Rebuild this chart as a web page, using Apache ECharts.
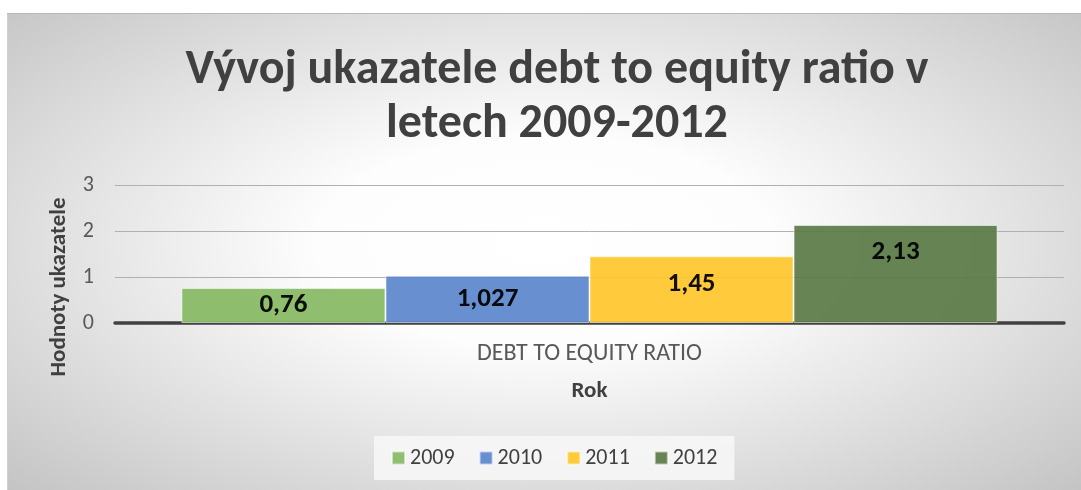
<!DOCTYPE html>
<html>
<head>
<meta charset="utf-8">
<script src="https://cdn.jsdelivr.net/npm/echarts@6/dist/echarts.min.js"></script>
<style>
  html, body { margin: 0; padding: 0; background: #fff; }
  #chart {
    position: absolute;
    left: 7px;
    top: 13px;
    width: 1074px;
    height: 477px;
    background: radial-gradient(ellipse at 50% 48%, #ffffff 0%, #fdfdfd 30%, #c4c4c4 100%);
    border-top: 1px solid #b8b8b8;
    border-left: 1px solid #d0d0d0;
    box-sizing: border-box;
  }
</style>
</head>
<body>
<div id="chart"></div>
<script>
const categories = ["DEBT TO EQUITY RATIO"];
const years = ["2009", "2010", "2011", "2012"];
const values = [0.76, 1.027, 1.45, 2.13];
const colors = ["#84b962", "#5b86cb", "#ffc62b", "#5a7b45"];
const yTicks = [0, 1, 2, 3];

const FONT = "Carlito, Lato, 'Noto Sans', sans-serif";

const chart = echarts.init(document.getElementById("chart"));

// short bars get a centred label, tall ones sit near the top
const labelPos = ["inside", "inside", "insideTop", "insideTop"];

chart.setOption({
  textStyle: { fontFamily: FONT },
  title: {
    text: "Vývoj ukazatele debt to equity ratio v\nletech 2009-2012",
    left: 544,
    textAlign: "center",
    top: 25,
    textStyle: {
      fontFamily: FONT,
      fontSize: 48,
      fontWeight: "bold",
      color: "#404040",
      lineHeight: 54,
    },
  },
  legend: {
    data: years,
    left: 366,
    bottom: 10,
    itemWidth: 13,
    itemHeight: 13,
    itemGap: 24,
    padding: [11, 17],
    backgroundColor: "rgba(246,246,246,0.9)",
    icon: "rect",
    textStyle: { fontFamily: FONT, fontSize: 22, color: "#404040" },
  },
  grid: { left: 107, right: 17, top: 171, bottom: 167 },
  xAxis: {
    type: "category",
    data: categories,
    name: "Rok",
    nameLocation: "middle",
    nameGap: 57,
    nameTextStyle: { fontFamily: FONT, fontSize: 23, fontWeight: "bold", color: "#404040" },
    axisLine: { lineStyle: { color: "#404040", width: 3.5 } },
    axisTick: { show: false },
    axisLabel: { margin: 19, fontSize: 24, color: "#595959", fontFamily: FONT },
  },
  yAxis: {
    type: "value",
    min: yTicks[0],
    max: yTicks[yTicks.length - 1],
    interval: 1,
    axisLine: { show: false },
    axisTick: { show: false },
    axisLabel: { margin: 21, fontSize: 22, color: "#595959", fontFamily: FONT },
    splitLine: { lineStyle: { color: "#b0b0b0", width: 1 } },
  },
  graphic: [
    {
      type: "text",
      x: 51,
      y: 273,
      rotation: Math.PI / 2,
      style: {
        text: "Hodnoty ukazatele",
        fontFamily: FONT,
        fontSize: 23,
        fontWeight: "bold",
        fill: "#404040",
        align: "center",
        verticalAlign: "middle",
      },
    },
  ],
  series: years.map((y, i) => ({
    name: y,
    type: "bar",
    data: [values[i]],
    barGap: "0%",
    barCategoryGap: "14%",
    itemStyle: {
      color: colors[i],
      opacity: 0.92,
      borderColor: "rgba(255,255,255,0.6)",
      borderWidth: 1,
    },
    label: {
      show: true,
      position: labelPos[i],
      distance: 14,
      fontFamily: FONT,
      fontSize: 27,
      fontWeight: "bold",
      color: "#000",
      formatter: (p) => String(p.value).replace(".", ","),
    },
  })),
});
</script>
</body>
</html>
